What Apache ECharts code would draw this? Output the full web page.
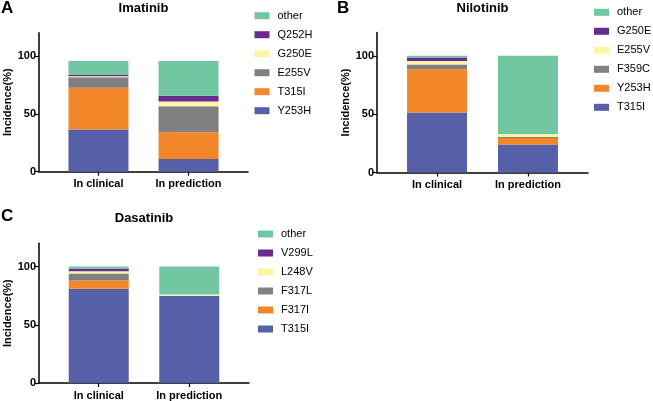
<!DOCTYPE html>
<html>
<head>
<meta charset="utf-8">
<script src="https://cdn.jsdelivr.net/npm/echarts@6/dist/echarts.min.js"></script>
<style>
html,body{margin:0;padding:0;background:#fff;}
#chart{width:653px;height:401px;}
</style>
</head>
<body>
<div id="chart"></div>
<script>
// ---- data ----
const categories = ['In clinical', 'In prediction'];
const yTickValues = [0, 50, 100];

const imatinibNames = ['Y253H', 'T315I', 'E255V', 'G250E', 'Q252H', 'other'];
const imatinibClinical = [36.5, 36, 9, 1, 1, 12];
const imatinibPrediction = [11, 23, 22.5, 4, 5, 30];

const nilotinibNames = ['T315I', 'Y253H', 'F359C', 'E255V', 'G250E', 'other'];
const nilotinibClinical = [51.5, 37, 4, 3, 3, 1.5];
const nilotinibPrediction = [24, 5.5, 1, 2.5, 0, 67];

const dasatinibNames = ['T315I', 'F317I', 'F317L', 'L248V', 'V299L', 'other'];
const dasatinibClinical = [81, 7, 6, 2, 2, 2];
const dasatinibPrediction = [75, 0, 0, 1, 0, 24];

const segmentColors = ['#5560a9', '#f4862a', '#808080', '#fcf5a8', '#6b2a8e', '#70c7a1'];

// ---- layout ----
const FONT = 'Liberation Sans, Arial, sans-serif';
const panels = [
  { key: 'A', title: 'Imatinib', names: imatinibNames, clinical: imatinibClinical, prediction: imatinibPrediction,
    grid: { left: 39, top: 32.7, width: 209, height: 139 }, letterPos: [1, 0], titleX: 143.5, titleY: 2,
    legend: { left: 254.5, top: 10.2 } },
  { key: 'B', title: 'Nilotinib', names: nilotinibNames, clinical: nilotinibClinical, prediction: nilotinibPrediction,
    grid: { left: 377, top: 32.5, width: 211, height: 140 }, letterPos: [337, 0], titleX: 482.5, titleY: 2,
    legend: { left: 594, top: 6.8 } },
  { key: 'C', title: 'Dasatinib', names: dasatinibNames, clinical: dasatinibClinical, prediction: dasatinibPrediction,
    grid: { left: 39, top: 243.3, width: 210, height: 140.7 }, letterPos: [1, 208], titleX: 144, titleY: 212,
    legend: { left: 258, top: 228.5 } }
];

const grids = [], xAxes = [], yAxes = [], series = [], legends = [], titles = [];
panels.forEach((p, i) => {
  grids.push(Object.assign({ containLabel: false }, p.grid));
  xAxes.push({
    type: 'value', gridIndex: i, min: -0.66, max: 1.66,
    splitLine: { show: false },
    axisLine: { show: true, onZero: false, lineStyle: { color: '#000', width: 1.5 } },
    axisTick: { show: true, customValues: [0, 1], length: 4, lineStyle: { color: '#000', width: 1.2 } },
    axisLabel: { customValues: [0, 1], formatter: v => categories[Math.round(v)], margin: 7,
      color: '#000', fontWeight: 'bold', fontSize: 11, fontFamily: FONT }
  });
  yAxes.push({
    type: 'value', gridIndex: i, min: 0, max: 120,
    name: 'Incidence(%)', nameLocation: 'middle', nameGap: 26,
    nameTextStyle: { color: '#000', fontWeight: 'bold', fontSize: 11, fontFamily: FONT },
    splitLine: { show: false },
    axisLine: { show: true, onZero: false, lineStyle: { color: '#000', width: 1.5 } },
    axisTick: { show: true, customValues: yTickValues, length: 5, lineStyle: { color: '#000', width: 1.2 } },
    axisLabel: { customValues: yTickValues, margin: 3, color: '#000', fontWeight: 'bold', fontSize: 11, fontFamily: FONT }
  });
  p.names.forEach((n, j) => {
    series.push({
      type: 'bar', name: p.key + '|' + n, xAxisIndex: i, yAxisIndex: i, stack: p.key,
      barWidth: 60, itemStyle: { color: segmentColors[j] },
      encode: { x: 1, y: 0 },
      data: [[p.clinical[j], 0], [p.prediction[j], 1]]
    });
  });
  legends.push({
    orient: 'vertical', left: p.legend.left, top: p.legend.top, padding: 0,
    itemWidth: 15, itemHeight: 7, itemGap: 8, icon: 'rect', selectedMode: false,
    data: p.names.slice().reverse().map(n => p.key + '|' + n),
    formatter: name => name.split('|')[1],
    textStyle: { color: '#000', fontSize: 11, fontFamily: FONT, padding: [0, 0, 0, 3] }
  });
  titles.push({ text: p.key, left: p.letterPos[0], top: p.letterPos[1], padding: 0,
    textStyle: { fontSize: 17, fontWeight: 'bold', color: '#000', fontFamily: FONT } });
  titles.push({ text: p.title, left: p.titleX, top: p.titleY, textAlign: 'center', padding: 0,
    textStyle: { fontSize: 13, fontWeight: 'bold', color: '#000', fontFamily: FONT } });
});

const chart = echarts.init(document.getElementById('chart'), null, { renderer: 'canvas' });
chart.setOption({
  animation: false,
  backgroundColor: '#fff',
  title: titles,
  grid: grids,
  xAxis: xAxes,
  yAxis: yAxes,
  legend: legends,
  series: series
});
</script>
</body>
</html>
